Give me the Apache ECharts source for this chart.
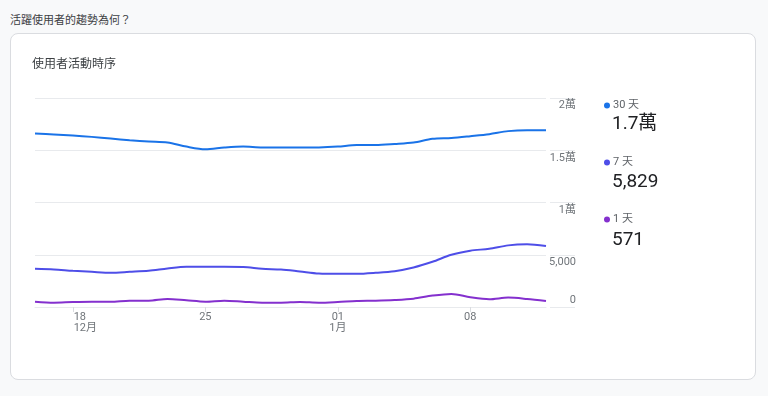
<!DOCTYPE html>
<html>
<head>
<meta charset="utf-8">
<script src="https://cdn.jsdelivr.net/npm/echarts@6/dist/echarts.min.js"></script>
<style>
  html, body { margin: 0; padding: 0; width: 768px; height: 396px; background: #f8f9fa; overflow: hidden; }
  body { font-family: Roboto, "Noto Sans CJK TC", sans-serif; position: relative; }
  #q { position: absolute; left: 10px; top: 11px; font-size: 11px; color: #3c4043; font-family: Roboto, "Noto Sans CJK TC", sans-serif; }
  #card { position: absolute; left: 10px; top: 33px; width: 744px; height: 345px; background: #fff; border: 1px solid #dadce0; border-radius: 8px; }
  #chart { position: absolute; left: 0; top: 0; width: 768px; height: 396px; }
</style>
</head>
<body>
<div id="q">活躍使用者的趨勢為何？</div>
<div id="card"></div>
<div id="chart"></div>
<script>
// ---- data ----
const categories = ['12/16','12/17','12/18','12/19','12/20','12/21','12/22','12/23','12/24','12/25','12/26','12/27','12/28','12/29','12/30','12/31',
  '1/1','1/2','1/3','1/4','1/5','1/6','1/7','1/8','1/9','1/10','1/11','1/12'];
const seriesNames = ['30 天', '7 天', '1 天'];
const users30 = [16600,16510,16410,16280,16120,15960,15830,15740,15350,15100,15260,15350,15260,15260,15260,15270,15350,15500,15500,15600,15740,16090,16180,16350,16540,16830,16920,16920];
const users7 = [3650,3590,3460,3365,3280,3365,3460,3685,3846,3846,3846,3830,3654,3590,3400,3205,3173,3173,3270,3430,3782,4327,5000,5385,5577,5897,5994,5829];
const users1 = [510,415,480,510,510,606,606,770,640,510,606,510,415,415,480,415,480,577,606,673,800,1090,1250,930,740,900,770,571];
const legendValues = ['1.7萬', '5,829', '571'];
const tickIndex = [2, 9, 16, 23];
const tickText = ['{d0|18}\n{m0|12月}', '25', '01\n1月', '08'];
const yTicks = [0, 5000, 10000, 15000, 20000];
const yTickText = ['0', '5,000', '1萬', '1.5萬', '2萬'];
const colors = ['#1a73e8', '#4e4ee8', '#8430ce'];
// ---- chart ----
const chart = echarts.init(document.getElementById('chart'), null, { renderer: 'canvas' });
const FONT = 'Roboto, "Noto Sans CJK TC", sans-serif';
const showTick = (i) => tickIndex.indexOf(i) >= 0;
const values = [users30, users7, users1];
const legendTop = [95, 153, 211];
const graphics = [
  { type: 'text', left: 32, top: 59, style: { text: '使用者活動時序', fontSize: 12, fill: '#3c4043', fontFamily: FONT } }
];
legendValues.forEach((v, i) => {
  graphics.push({ type: 'text', left: 612, top: legendTop[i] + 20, style: { text: v, fontSize: 19, fill: '#202124', fontFamily: FONT } });
});
chart.setOption({
  animation: false,
  textStyle: { fontFamily: FONT },
  color: colors,
  grid: [
    { left: 35, right: 222, top: 98, bottom: 89 },
    { left: 550, right: 193, top: 98, bottom: 89 }
  ],
  legend: {
    orient: 'vertical', left: 599, top: 95, itemGap: 46,
    icon: 'circle', itemWidth: 6, itemHeight: 6,
    data: seriesNames,
    textStyle: { fontSize: 11, color: '#5f6368', fontFamily: FONT, padding: [0, 0, 0, -2] },
    selectedMode: false
  },
  graphic: graphics,
  xAxis: [
    {
      type: 'category', gridIndex: 0, data: categories, boundaryGap: false,
      axisLine: { lineStyle: { color: '#e8eaed' } },
      axisTick: { show: true, interval: (i) => showTick(i), length: 5, lineStyle: { color: '#dadce0' } },
      axisLabel: {
        interval: (i) => showTick(i), align: 'center', margin: 5,
        fontSize: 11, color: '#70757a', lineHeight: 11,
        formatter: (v, i) => tickText[tickIndex.indexOf(i)] || '',
        rich: {
          d0: { fontSize: 11, color: '#70757a', lineHeight: 11, padding: [0, 0, 0, 14] },
          m0: { fontSize: 11, color: '#70757a', lineHeight: 11, padding: [0, 0, 0, 25] }
        }
      }
    },
    { type: 'category', gridIndex: 1, data: categories, show: false }
  ],
  yAxis: [
    {
      type: 'value', gridIndex: 0, min: 0, max: 20000, interval: 5000, position: 'right',
      axisLine: { show: false }, axisTick: { show: false }, axisLabel: { show: false },
      splitLine: { lineStyle: { color: '#e8eaed' } }
    },
    {
      type: 'value', gridIndex: 1, min: 0, max: 20000, interval: 5000, position: 'right',
      axisLine: { show: false }, axisTick: { show: false },
      splitLine: { lineStyle: { color: '#e8eaed' } },
      axisLabel: {
        inside: true, margin: -1, fontSize: 11, color: '#70757a',
        formatter: (v) => {
          const t = yTickText[yTicks.indexOf(v)];
          return v === 0 ? '{b|' + t + '}' : '{t|' + t + '}';
        },
        rich: {
          t: { fontSize: 11, color: '#70757a', padding: [15, 0, 0, 0] },
          b: { fontSize: 11, color: '#70757a', padding: [0, 0, 13, 0] }
        }
      }
    }
  ],
  series: seriesNames.map((n, i) => ({
    name: n, type: 'line', xAxisIndex: 0, yAxisIndex: 0,
    data: values[i], smooth: 0.3, showSymbol: false, symbol: 'none',
    lineStyle: { width: 2, color: colors[i] }, itemStyle: { color: colors[i] }
  }))
});
</script>
</body>
</html>
